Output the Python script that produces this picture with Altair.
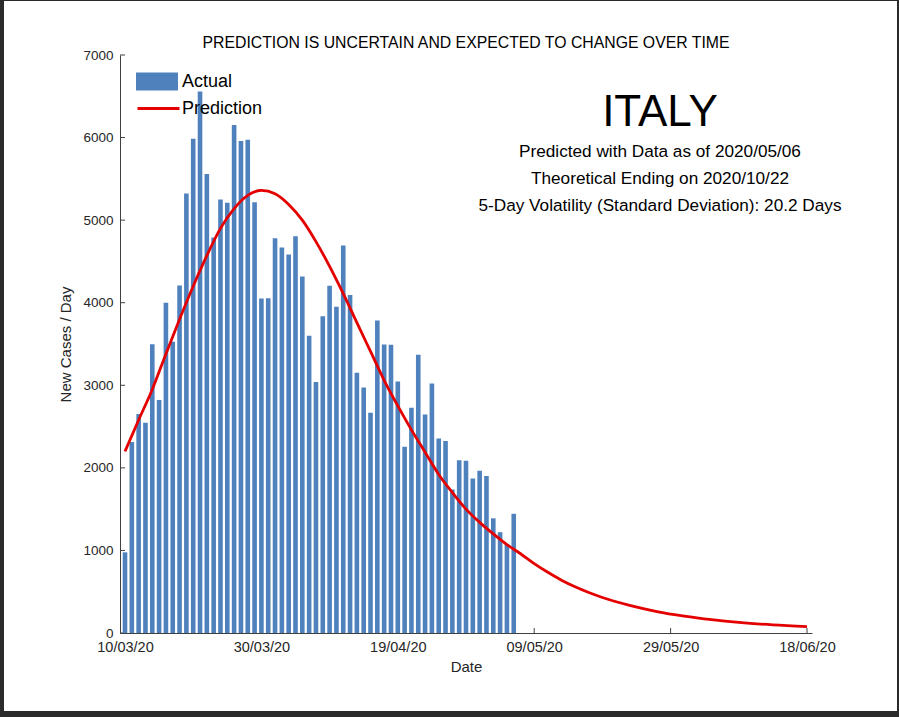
import altair as alt
import pandas as pd

# First day of the series (10 March 2020); x positions are days since this date
START_YEAR, START_MONTH, START_DAY = 2020, 3, 10

# Daily new cases, Italy, 10/03/20 .. 06/05/20
actual_cases = [
    977, 2313, 2651, 2547, 3497, 2823, 4000, 3526, 4207, 5322,
    5986, 6557, 5560, 4789, 5249, 5210, 6153, 5959, 5974, 5217,
    4050, 4053, 4782, 4668, 4585, 4805, 4316, 3599, 3039, 3836,
    4204, 3951, 4694, 4092, 3153, 2972, 2667, 3786, 3493, 3491,
    3047, 2256, 2729, 3370, 2646, 3021, 2357, 2324, 1739, 2091,
    2086, 1872, 1965, 1900, 1389, 1221, 1075, 1444,
]

# Fitted prediction curve (day offset, new cases)
pred_days = [0, 2, 4, 6, 8, 10, 12, 14, 16, 18, 20, 22, 24, 26, 28, 30, 32, 34,
             36, 38, 40, 42, 44, 46, 48, 50, 52, 54, 56, 58, 60, 62, 64, 66, 68,
             70, 74, 78, 82, 86, 90, 95, 100]
pred_cases = [2200, 2580, 2950, 3380, 3800, 4200, 4570, 4900, 5140, 5300, 5360,
              5320, 5190, 5000, 4740, 4440, 4110, 3760, 3410, 3060, 2750, 2460,
              2190, 1920, 1700, 1500, 1340, 1200, 1070, 960, 840, 735, 640, 560,
              490, 430, 335, 260, 205, 162, 128, 98, 77]

x_tick_days = [0, 20, 40, 60, 80, 100]
y_tick_values = [0, 1000, 2000, 3000, 4000, 5000, 6000, 7000]

title_text = "PREDICTION IS UNCERTAIN AND EXPECTED TO CHANGE OVER TIME"
country = "ITALY"
info_lines = [
    "Predicted with Data as of 2020/05/06",
    "Theoretical Ending on 2020/10/22",
    "5-Day Volatility (Standard Deviation): 20.2 Days",
]

W, H = 692, 578
PAD_L, PAD_T = 120, 55
CANVAS_W, CANVAS_H = 899, 717
FONT = "Liberation Sans"
BLUE = "#4f81bd"
RED = "#e50000"
AXIS_COLOR = "#404040"
TEXT_COLOR = "#262626"
FRAME_COLOR = "#2b2b2b"

bars_df = pd.DataFrame({
    "day": list(range(len(actual_cases))),
    "cases": actual_cases,
    "series": ["Actual"] * len(actual_cases),
})
pred_df = pd.DataFrame({
    "day": pred_days,
    "cases": pred_cases,
    "series": ["Prediction"] * len(pred_days),
})

date_label = (
    f"timeFormat(datetime({START_YEAR}, {START_MONTH - 1}, {START_DAY} + datum.value), '%d/%m/%y')"
)

x_scale = alt.Scale(domain=[0, 100], nice=False, zero=False)
y_scale = alt.Scale(domain=[0, 7000], nice=False)

x_axis = alt.Axis(
    title="Date", values=x_tick_days, labelExpr=date_label, grid=False,
    tickSize=0, labelPadding=7, titlePadding=6,
    domainColor=AXIS_COLOR, labelColor=TEXT_COLOR, titleColor=TEXT_COLOR,
    labelFont=FONT, titleFont=FONT, labelFontSize=14.5, titleFontSize=15,
    titleFontWeight="normal",
)
y_axis = alt.Axis(
    title="New Cases / Day", values=y_tick_values, format="d", grid=False,
    tickSize=0, labelPadding=7, titlePadding=9,
    domainColor=AXIS_COLOR, labelColor=TEXT_COLOR, titleColor=TEXT_COLOR,
    labelFont=FONT, titleFont=FONT, labelFontSize=13.5, titleFontSize=15,
    titleFontWeight="normal",
)


def x_enc(field):
    return alt.X(field, scale=x_scale, axis=x_axis)


def y_enc(field):
    return alt.Y(field, scale=y_scale, axis=y_axis)


# Inward-pointing tick marks
y_ticks = alt.Chart(pd.DataFrame({"v": y_tick_values})).mark_rule(
    color=AXIS_COLOR, strokeWidth=1
).encode(
    y=y_enc("v:Q"),
    x=alt.value(0), x2=alt.value(5),
)
x_ticks = alt.Chart(pd.DataFrame({"day": x_tick_days})).mark_rule(
    color=AXIS_COLOR, strokeWidth=1
).encode(
    x=x_enc("day:Q"),
    y=alt.value(H), y2=alt.value(H - 5),
)

bars = alt.Chart(bars_df).mark_bar(size=4.6, clip=True).encode(
    x=x_enc("day:Q"),
    y=y_enc("cases:Q"),
    fill=alt.Fill(
        "series:N",
        scale=alt.Scale(domain=["Actual"], range=[BLUE]),
        legend=alt.Legend(
            title=None, orient="none", legendX=16, legendY=5.5, padding=0,
            symbolType="M-1,-0.43H1V0.43H-1Z", symbolSize=1764,
            symbolStrokeWidth=0, symbolOpacity=1,
            labelFont=FONT, labelFontSize=18, labelColor="black", labelOffset=4,
            zindex=1,
        ),
    ),
)

line = alt.Chart(pred_df).mark_line(
    interpolate="monotone", strokeWidth=2.8, clip=True
).encode(
    x=x_enc("day:Q"),
    y=y_enc("cases:Q"),
    stroke=alt.Stroke(
        "series:N",
        scale=alt.Scale(domain=["Prediction"], range=[RED]),
        legend=alt.Legend(
            title=None, orient="none", legendX=16, legendY=31, padding=0,
            symbolType="stroke", symbolSize=1764, symbolStrokeWidth=3,
            labelFont=FONT, labelFontSize=18, labelColor="black", labelOffset=1,
            zindex=1,
        ),
    ),
)

text_base = alt.Chart(pd.DataFrame({"k": [0]}))

heading = text_base.mark_text(
    text=title_text, font=FONT, fontSize=15.8, color="black",
    align="center", baseline="alphabetic",
).encode(x=alt.value(W / 2), y=alt.value(-7))

country_text = text_base.mark_text(
    text=country, font=FONT, fontSize=44, color="black",
    align="center", baseline="alphabetic",
).encode(x=alt.value(540), y=alt.value(71))

info_marks = []
for i, line_text in enumerate(info_lines):
    info_marks.append(
        text_base.mark_text(
            text=line_text, font=FONT, fontSize=17.2, color="black",
            align="center", baseline="alphabetic",
        ).encode(x=alt.value(540), y=alt.value(102 + 27 * i))
    )

# Dark window frame around the white page
frame_strips = [
    (0, 4, 0, CANVAS_H),                    # left
    (0, CANVAS_W, 0, 1),                    # top
    (897, CANVAS_W, 0, CANVAS_H),           # right
    (0, CANVAS_W, 711, CANVAS_H),           # bottom
]
frame_marks = [
    text_base.mark_rect(color=FRAME_COLOR, clip=False).encode(
        x=alt.value(x0 - PAD_L), x2=alt.value(x1 - PAD_L),
        y=alt.value(y0 - PAD_T), y2=alt.value(y1 - PAD_T),
    )
    for x0, x1, y0, y1 in frame_strips
]

chart = alt.layer(
    y_ticks, x_ticks, bars, line, heading, country_text, *info_marks, *frame_marks
).resolve_scale(
    fill="independent", stroke="independent"
).properties(
    width=W, height=H,
    autosize=alt.AutoSizeParams(type="none"),
    padding={"left": PAD_L, "top": PAD_T,
             "right": CANVAS_W - PAD_L - W, "bottom": CANVAS_H - PAD_T - H},
    background="white",
).configure_view(stroke=None)

chart.save("out.html", embed_options={"renderer": "svg", "actions": False})
